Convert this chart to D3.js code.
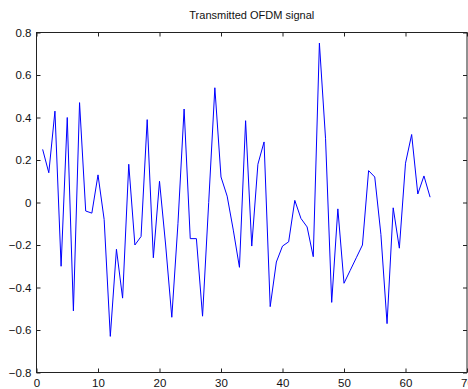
<!DOCTYPE html>
<html>
<head>
<meta charset="utf-8">
<script src="https://cdn.jsdelivr.net/npm/d3@7"></script>
<style>
  body { margin: 0; background: #fff; }
  svg { display: block; font-family: "Liberation Sans", Arial, sans-serif; }
</style>
</head>
<body>
<div id="chart"></div>
<script>
// sample index 1..64 and transmitted signal value
const sampleIdx = d3.range(1, 65);
const signal = [
  0.25, 0.14, 0.43, -0.30, 0.40, -0.51, 0.47, -0.04, -0.05, 0.13,
  -0.08, -0.63, -0.22, -0.45, 0.18, -0.20, -0.16, 0.39, -0.26, 0.10,
  -0.20, -0.54, -0.10, 0.44, -0.17, -0.17, -0.535, 0.0, 0.54, 0.12,
  0.03, -0.13, -0.305, 0.385, -0.205, 0.18, 0.285, -0.49, -0.28, -0.205,
  -0.185, 0.01, -0.075, -0.115, -0.255, 0.75, 0.30, -0.47, -0.03, -0.38,
  -0.32, -0.26, -0.20, 0.15, 0.12, -0.15, -0.57, -0.025, -0.215, 0.185,
  0.32, 0.04, 0.125, 0.025
];
const xTicks = [0, 10, 20, 30, 40, 50, 60, 70];
const yTicks = [-0.8, -0.6, -0.4, -0.2, 0, 0.2, 0.4, 0.6, 0.8];
const title = 'Transmitted OFDM signal';

const width = 468, height = 389;
const margin = { top: 32.5, right: 1, bottom: 16.5, left: 36.5 };

const svg = d3.select('#chart').append('svg')
  .attr('width', width)
  .attr('height', height);

const x = d3.scaleLinear().domain([0, 70]).range([margin.left, width - margin.right]);
const y = d3.scaleLinear().domain([-0.8, 0.8]).range([height - margin.bottom, margin.top]);

// plot box
svg.append('rect')
  .attr('x', x(0)).attr('y', y(0.8))
  .attr('width', x(70) - x(0)).attr('height', y(-0.8) - y(0.8))
  .attr('fill', 'none').attr('stroke', '#222').attr('stroke-width', 1);

const tickLen = 4;
const fmt = d => d === 0 ? '0' : d3.format('.1f')(d);

// ticks point inward on all four sides
const xb = svg.append('g').attr('transform', `translate(0,${y(-0.8)})`)
  .call(d3.axisBottom(x).tickValues(xTicks).tickSizeInner(-tickLen).tickSizeOuter(0).tickPadding(6));
const xt = svg.append('g').attr('transform', `translate(0,${y(0.8)})`)
  .call(d3.axisTop(x).tickValues(xTicks).tickSizeInner(-tickLen).tickSizeOuter(0).tickFormat(''));
const yl = svg.append('g').attr('transform', `translate(${x(0)},0)`)
  .call(d3.axisLeft(y).tickValues(yTicks).tickSizeInner(-tickLen).tickSizeOuter(0).tickPadding(5).tickFormat(fmt));
const yr = svg.append('g').attr('transform', `translate(${x(70)},0)`)
  .call(d3.axisRight(y).tickValues(yTicks).tickSizeInner(-tickLen).tickSizeOuter(0).tickFormat(''));

[xb, xt, yl, yr].forEach(g => {
  g.select('.domain').remove();
  g.selectAll('line').attr('stroke', '#222');
  g.selectAll('text').attr('fill', '#111').style('font-size', '11.5px');
});

// the signal
const line = d3.line()
  .x((d, i) => x(sampleIdx[i]))
  .y(d => y(d));

svg.append('path')
  .datum(signal)
  .attr('d', line)
  .attr('fill', 'none')
  .attr('stroke', '#0000ff')
  .attr('stroke-width', 1);

svg.append('text')
  .attr('x', (x(0) + x(70)) / 2)
  .attr('y', 19)
  .attr('text-anchor', 'middle')
  .style('font-size', '11px')
  .attr('fill', '#111')
  .text(title);
</script>
</body>
</html>
